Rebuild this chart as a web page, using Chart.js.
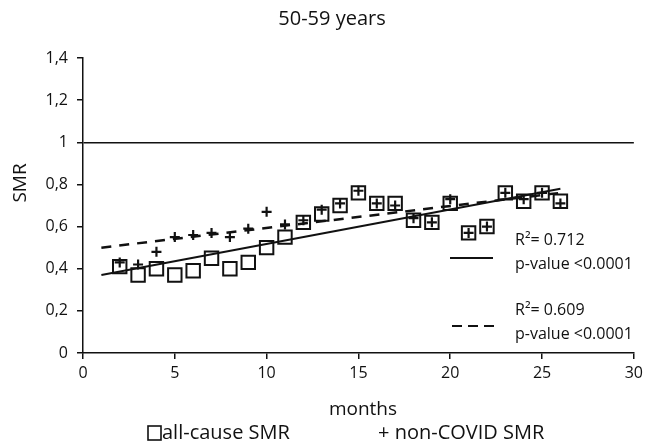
<!DOCTYPE html>
<html>
<head>
<meta charset="utf-8">
<script src="https://cdn.jsdelivr.net/npm/chart.js@4/dist/chart.umd.min.js"></script>
<style>
  html, body { margin: 0; padding: 0; background: #fff; }
  #wrap { width: 648px; height: 446px; }
</style>
</head>
<body>
<div id="wrap"><canvas id="smrChart" width="648" height="446"></canvas></div>
<script>
// valeurs
const months = [2, 3, 4, 5, 6, 7, 8, 9, 10, 11, 12, 13, 14, 15, 16, 17, 18, 19, 20, 21, 22, 23, 24, 25, 26];
const allCauseSmr = [0.41, 0.37, 0.40, 0.37, 0.39, 0.45, 0.40, 0.43, 0.50, 0.55, 0.62, 0.66, 0.70, 0.76, 0.71, 0.71, 0.63, 0.62, 0.71, 0.57, 0.60, 0.76, 0.72, 0.76, 0.72];
const nonCovidSmr = [0.43, 0.42, 0.48, 0.55, 0.56, 0.57, 0.55, 0.59, 0.67, 0.61, 0.63, 0.68, 0.71, 0.77, 0.71, 0.70, 0.64, 0.62, 0.73, 0.57, 0.60, 0.76, 0.73, 0.76, 0.71];
const trendX = [1, 26];
const allCauseTrend = [0.37, 0.78];
const nonCovidTrend = [0.50, 0.76];
const xTicks = [0, 5, 10, 15, 20, 25, 30];
const yTicks = [0, 0.2, 0.4, 0.6, 0.8, 1, 1.2, 1.4];

const FONT = '"Open Sans", Lato, sans-serif';
const INK = '#111';

const pts = (xs, ys) => xs.map((x, i) => ({ x, y: ys[i] }));

// titres, légendes et annotations
const textesPlugin = {
    id: 'textes',
    afterDraw(chart) {
        const ctx = chart.ctx;
        ctx.save();
        ctx.fillStyle = INK;
        ctx.strokeStyle = INK;
        ctx.textBaseline = 'middle';

        ctx.font = '20px ' + FONT;
        ctx.textAlign = 'center';
        ctx.fillText('50-59 years', 332, 19);

        ctx.font = '19px ' + FONT;
        ctx.fillText('months', 363, 410);

        ctx.save();
        ctx.translate(21, 183);
        ctx.rotate(-Math.PI / 2);
        ctx.fillText('SMR', 0, 0);
        ctx.restore();

        // légende du bas
        ctx.textAlign = 'left';
        ctx.font = '20px ' + FONT;
        ctx.lineWidth = 1.6;
        ctx.strokeRect(148, 426, 13, 14);
        ctx.fillText('all-cause SMR', 162, 433);
        ctx.fillText('+ non-COVID SMR', 378, 433);

        // annotations R²
        ctx.font = '16px ' + FONT;
        ctx.fillText('R\u00B2= 0.712', 515, 240);
        ctx.fillText('p-value <0.0001', 515, 264);
        ctx.fillText('R\u00B2= 0.609', 515, 310);
        ctx.fillText('p-value <0.0001', 515, 334);

        ctx.lineWidth = 2;
        ctx.beginPath();
        ctx.moveTo(450, 258);
        ctx.lineTo(493, 258);
        ctx.stroke();
        ctx.setLineDash([10, 6]);
        ctx.beginPath();
        ctx.moveTo(452, 326);
        ctx.lineTo(497, 326);
        ctx.stroke();
        ctx.restore();
    }
};

function dessinerGraphique() {
    const ctx = document.getElementById('smrChart').getContext('2d');
    new Chart(ctx, {
        type: 'scatter',
        data: {
            datasets: [
                {
                    label: 'all-cause trend',
                    data: pts(trendX, allCauseTrend),
                    showLine: true,
                    borderColor: INK,
                    borderWidth: 2,
                    pointRadius: 0
                },
                {
                    label: 'non-COVID trend',
                    data: pts(trendX, nonCovidTrend),
                    showLine: true,
                    borderColor: INK,
                    borderWidth: 2.5,
                    borderDash: [10, 8],
                    pointRadius: 0
                },
                {
                    label: 'all-cause SMR',
                    data: pts(months, allCauseSmr),
                    pointStyle: 'rect',
                    pointRadius: 9.5,
                    pointBorderWidth: 2,
                    pointBorderColor: INK,
                    pointBackgroundColor: 'rgba(0,0,0,0)'
                },
                {
                    label: 'non-COVID SMR',
                    data: pts(months, nonCovidSmr),
                    pointStyle: 'cross',
                    pointRadius: 5,
                    pointBorderWidth: 2.2,
                    pointBorderColor: INK
                }
            ]
        },
        options: {
            responsive: false,
            animation: false,
            layout: { padding: { top: 58, right: 11, left: 0, bottom: 0 } },
            plugins: {
                legend: { display: false },
                tooltip: { enabled: false },
                title: { display: false }
            },
            scales: {
                x: {
                    type: 'linear',
                    min: 0,
                    max: 30,
                    afterFit: s => { s.height = 93; },
                    afterBuildTicks: s => { s.ticks = xTicks.map(v => ({ value: v })); },
                    border: { display: true, color: INK, width: 1.5 },
                    grid: { display: true, drawOnChartArea: false, tickLength: 6, tickColor: INK, lineWidth: 1.5 },
                    ticks: { color: INK, padding: 5, font: { family: FONT, size: 16 }, maxRotation: 0 }
                },
                y: {
                    min: 0,
                    max: 1.4,
                    afterFit: s => { s.width = 83; },
                    afterBuildTicks: s => { s.ticks = yTicks.map(v => ({ value: v })); },
                    border: { display: true, color: INK, width: 1.5 },
                    grid: {
                        display: true,
                        drawOnChartArea: true,
                        tickLength: 6,
                        tickColor: INK,
                        lineWidth: 1.5,
                        color: c => (c.tick && c.tick.value === 1 ? INK : 'rgba(0,0,0,0)')
                    },
                    ticks: {
                        color: INK,
                        padding: 9,
                        font: { family: FONT, size: 16 },
                        callback: v => String(+Number(v).toFixed(1)).replace('.', ',')
                    }
                }
            }
        },
        plugins: [textesPlugin]
    });
}
document.addEventListener('DOMContentLoaded', dessinerGraphique);
</script>
</body>
</html>
